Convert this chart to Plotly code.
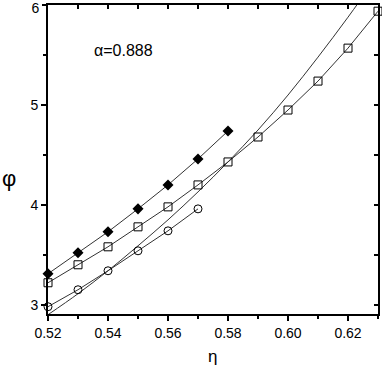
import plotly.graph_objects as go

# filled diamonds
eta_a = [0.52, 0.53, 0.54, 0.55, 0.56, 0.57, 0.58]
phi_a = [3.31, 3.52, 3.73, 3.96, 4.20, 4.46, 4.74]

# open squares
eta_b = [0.52, 0.53, 0.54, 0.55, 0.56, 0.57, 0.58, 0.59, 0.60, 0.61, 0.62, 0.63]
phi_b = [3.22, 3.40, 3.58, 3.78, 3.98, 4.20, 4.43, 4.68, 4.95, 5.24, 5.57, 5.94]

# open circles
eta_c = [0.52, 0.53, 0.54, 0.55, 0.56, 0.57]
phi_c = [2.98, 3.15, 3.34, 3.54, 3.74, 3.96]

# smooth curve, no markers
eta_d = [0.52, 0.53, 0.54, 0.55, 0.56, 0.57, 0.58, 0.59, 0.60, 0.61, 0.62, 0.63]
phi_d = [2.90, 3.11, 3.34, 3.59, 3.85, 4.13, 4.43, 4.75, 5.10, 5.48, 5.88, 6.30]

x_range = [0.52, 0.63]
y_range = [2.907, 6.002]
y_ticks = [3, 4, 5]
y_top_tick = [6]

line = dict(color="#333333", width=1)
fig = go.Figure()

fig.add_trace(go.Scatter(x=eta_d, y=phi_d, mode="lines", line=dict(color="#333333", width=1, shape="spline")))
fig.add_trace(go.Scatter(x=eta_c, y=phi_c, mode="lines+markers", line=line, cliponaxis=False,
                         marker=dict(symbol="circle-open", size=8, color="black", line=dict(width=1))))
fig.add_trace(go.Scatter(x=eta_b, y=phi_b, mode="lines+markers", line=line, cliponaxis=False,
                         marker=dict(symbol="square-open", size=8, color="black", line=dict(width=1))))
fig.add_trace(go.Scatter(x=eta_a, y=phi_a, mode="lines+markers", line=line, cliponaxis=False,
                         marker=dict(symbol="diamond", size=8.5, color="black")))

# invisible traces to carry the top / right axes and the top-left "6" label
fig.add_trace(go.Scatter(x=x_range, y=y_range, xaxis="x2", yaxis="y2", mode="none", hoverinfo="skip"))
fig.add_trace(go.Scatter(x=x_range, y=y_range, xaxis="x", yaxis="y3", mode="none", hoverinfo="skip"))

font = dict(family="Liberation Sans, Arial", size=14, color="black")
common = dict(showline=True, linecolor="black", linewidth=2, showgrid=False, zeroline=False,
              automargin=False, tickcolor="black", tickwidth=1.5)

fig.update_layout(
    width=382, height=365,
    margin=dict(l=48, r=4, t=5, b=51),
    paper_bgcolor="white", plot_bgcolor="white",
    showlegend=False,
    font=font,
    xaxis=dict(range=x_range, dtick=0.02, tick0=0.52, tickformat=".2f",
               ticks="outside", ticklen=5,
               minor=dict(dtick=0.01, ticks="outside", ticklen=3, tickwidth=1.5, tickcolor="black"),
               **common),
    yaxis=dict(range=y_range, tickvals=y_ticks,
               ticks="outside", ticklen=5,
               minor=dict(dtick=0.5, tick0=3, ticks="outside", ticklen=3, tickwidth=1.5, tickcolor="black"),
               **common),
    yaxis3=dict(range=y_range, overlaying="y", side="left", tickvals=y_top_tick,
                ticks="outside", ticklen=5, ticklabelshift=3, showline=False,
                showgrid=False, zeroline=False, automargin=False, tickcolor="black", tickwidth=1.5),
    xaxis2=dict(range=x_range, overlaying="x", side="top", dtick=0.01, tick0=0.52,
                ticks="inside", ticklen=4, showticklabels=False, **common),
    yaxis2=dict(range=y_range, overlaying="y", side="right", dtick=0.5, tick0=3,
                ticks="inside", ticklen=4, showticklabels=False, **common),
    annotations=[
        dict(text="α=0.888", x=0.545, y=5.55, xref="x", yref="y",
             showarrow=False, font=dict(size=16, family="Liberation Sans, Arial")),
        dict(text="η", x=212, y=365 - 356, xref="paper", yref="paper", showarrow=False,
             xanchor="center", yanchor="middle",
             font=dict(size=17, family="Liberation Sans, Arial")),
        dict(text="φ", x=9, y=365 - 178, xref="paper", yref="paper", showarrow=False,
             xanchor="center", yanchor="middle",
             font=dict(size=22, family="Liberation Sans, Arial")),
    ],
)

# axis titles placed in pixel terms relative to the plot area
pw, ph = 382 - 48 - 4, 365 - 5 - 51
for a in fig.layout.annotations[1:]:
    a.x = (a.x - 48) / pw
    a.y = (a.y - 51) / ph

# drop the browser's default page margin so the figure sits at the window origin
fig.write_html("out.html", config={"displayModeBar": False},
               post_script="document.body.style.margin='0';document.body.style.overflow='hidden';")
